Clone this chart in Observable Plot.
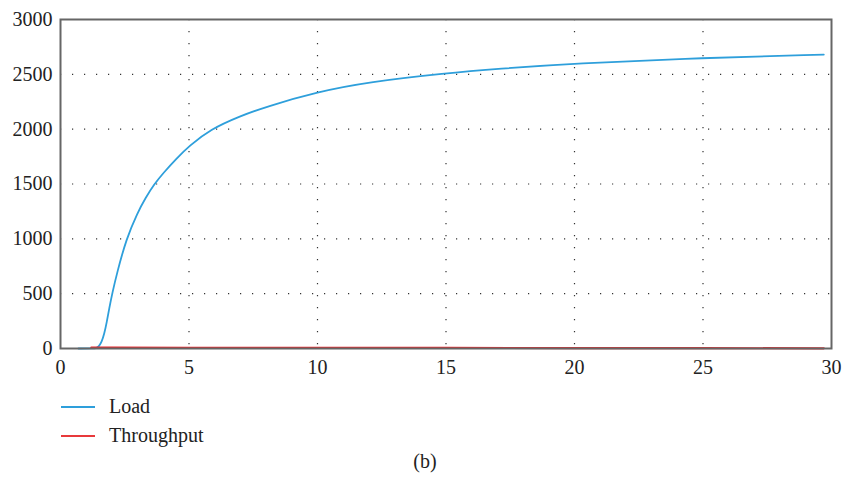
<!DOCTYPE html>
<html>
<head>
<meta charset="utf-8">
<script src="https://cdn.jsdelivr.net/npm/d3@7"></script>
<script src="https://cdn.jsdelivr.net/npm/@observablehq/plot@0.6"></script>
<style>
  body { margin: 0; background: #fff; font-family: 'Liberation Serif', serif; }
  #chart svg { display: block; }
  .legend { position: absolute; left: 61px; font-size: 20px; color: #222; font-family: 'Liberation Serif', serif; }
  .item { display: flex; align-items: center; height: 29px; }
  .swatch { width: 34px; height: 2px; margin-right: 14px; }
  .caption { position: absolute; top: 450px; left: 0; width: 850px; text-align: center; font-size: 20px; color: #222; font-family: 'Liberation Serif', serif; }
</style>
</head>
<body>
<div id="chart"></div>
<div class="legend" style="top:392px">
  <div class="item"><div class="swatch" style="background:#2e9fdb"></div><span>Load</span></div>
  <div class="item"><div class="swatch" style="background:#e8393b"></div><span>Throughput</span></div>
</div>
<div class="caption">(b)</div>
<script>
const loadX = [0.7, 1.3, 1.4, 1.5, 1.6, 1.7, 1.8, 1.9, 2.01, 2.2, 2.56, 3.0, 3.3, 3.65, 4.0, 4.5, 5.0, 5.84, 7.0, 8.0, 10, 12, 15, 17, 20, 25, 29.7];
const loadY = [0, 0, 3, 20, 60, 130, 240, 370, 500, 690, 1000, 1240, 1370, 1500, 1600, 1730, 1845, 2000, 2120, 2205, 2340, 2430, 2510, 2550, 2600, 2650, 2680];
const thrX = [1.2, 2, 5, 10, 15, 20, 25, 29.7];
const thrY = [8, 8, 7, 6, 5, 4, 3, 2];
const xTicks = [0, 5, 10, 15, 20, 25, 30];
const yTicks = [0, 500, 1000, 1500, 2000, 2500, 3000];

const load = loadX.map((x, i) => ({x, y: loadY[i]}));
const thr = thrX.map((x, i) => ({x, y: thrY[i]}));

const chart = Plot.plot({
  width: 844,
  height: 382,
  marginLeft: 60,
  marginRight: 13,
  marginTop: 19,
  marginBottom: 34,
  style: "font-family: 'Liberation Serif', serif; font-size: 20px; color: #222; background: #fff;",
  x: {domain: [0, 30], label: null},
  y: {domain: [0, 3000], label: null},
  marks: [
    Plot.ruleX(xTicks.slice(1, -1), {stroke: "#333", strokeWidth: 1.2, strokeDasharray: "1.2,10.8"}),
    Plot.ruleY(yTicks.slice(1, -1), {stroke: "#333", strokeWidth: 1.2, strokeDasharray: "1.2,10.8"}),
    Plot.line(load, {x: "x", y: "y", stroke: "#2e9fdb", strokeWidth: 1.8, curve: "basis"}),
    Plot.line(thr, {x: "x", y: "y", stroke: "#e8262a", strokeWidth: 2.2}),
    Plot.frame({stroke: "#666", strokeWidth: 2}),
    Plot.axisX({ticks: xTicks, tickSize: 0, tickPadding: 11, tickFormat: d => String(d), fontSize: 20}),
    Plot.axisY({ticks: yTicks, tickSize: 0, tickPadding: 8, tickFormat: d => String(d), fontSize: 20})
  ]
});
document.getElementById("chart").appendChild(chart);
</script>
</body>
</html>
